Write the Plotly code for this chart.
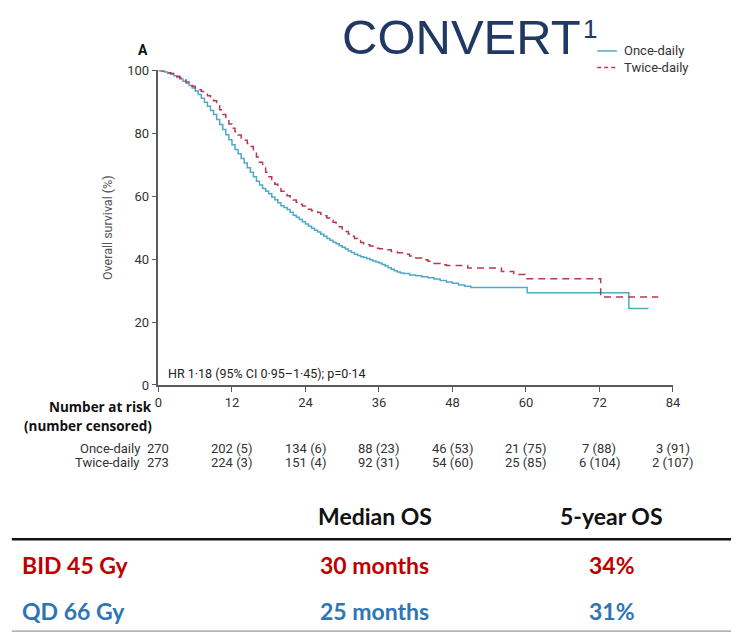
import plotly.graph_objects as go

# Kaplan-Meier overall survival, CONVERT trial (months vs % alive)
qd_months = [0, 0.5, 1, 1.5, 2, 2.5, 3, 3.5, 4, 4.5, 5, 5.5, 6, 6.5, 7, 7.5, 8, 8.5, 9, 9.5,
             10, 10.5, 11, 11.5, 12, 12.5, 13, 13.5, 14, 14.5, 15, 15.5, 16, 16.5, 17, 17.5,
             18, 18.5, 19, 19.5, 20, 20.5, 21, 21.5, 22, 22.5, 23, 23.5, 24, 24.5, 25, 25.5,
             26, 26.5, 27, 27.5, 28, 28.5, 29, 29.5, 30, 30.5, 31, 31.5, 32, 32.5, 33, 33.5,
             34, 34.5, 35, 35.5, 36, 36.5, 37, 37.5, 38, 38.5, 39, 39.5, 40,
             41, 42, 43, 44, 45, 46, 47, 48, 49, 50, 51, 60.2, 76.8, 80]
qd_surv = [100, 99.8, 99.5, 99.1, 98.8, 98.3, 97.8, 97.3, 96.6, 95.9, 95.2, 94.4, 93.5, 92.4,
           91.2, 89.9, 88.6, 87.3, 86.0, 84.4, 82.8, 81.2, 79.6, 78.0, 76.4, 74.9, 73.5, 72.0,
           70.6, 69.1, 67.6, 66.2, 64.8, 63.6, 62.5, 61.6, 60.8, 59.8, 58.9, 57.9, 57.0, 56.4,
           55.8, 54.9, 54.0, 53.3, 52.6, 51.9, 51.2, 50.5, 49.8, 49.2, 48.6, 47.9, 47.3, 46.6,
           46.0, 45.4, 44.9, 44.3, 43.8, 43.2, 42.6, 42.1, 41.6, 41.2, 40.8, 40.5, 40.2, 39.8,
           39.4, 39.1, 38.8, 38.3, 37.8, 37.3, 36.8, 36.3, 35.9, 35.6, 35.4,
           35.0, 34.7, 34.4, 34.1, 33.7, 33.2, 32.7, 32.3, 31.8, 31.4, 31.0, 29.3, 24.3, 24.3]

bid_months = [0, 0.5, 1, 1.5, 2, 2.5, 3, 3.5, 4, 4.5, 5, 5.5, 6, 6.5, 7, 7.5, 8, 8.5, 9, 9.5,
              10, 10.5, 11, 11.5, 12, 12.5, 13, 13.5, 14, 14.5, 15, 15.5, 16, 16.5, 17, 17.5,
              18, 18.5, 19, 19.5, 20, 20.5, 21, 21.5, 22, 22.5, 23, 23.5, 24, 24.5, 25, 25.5,
              26, 26.5, 27, 27.5, 28, 28.5, 29, 29.5, 30, 30.5, 31, 31.5, 32, 32.5, 33, 33.5,
              34, 34.5, 35, 35.5, 36, 37, 38, 39, 40, 41, 42, 43, 44, 45, 46, 47,
              50.5, 56, 58, 59.8, 72.2, 81.6]
bid_surv = [100, 99.8, 99.6, 99.3, 99.0, 98.6, 98.2, 97.6, 97.0, 96.3, 95.6, 95.0, 94.5, 93.9,
            93.3, 92.7, 92.0, 91.3, 90.4, 89.0, 87.5, 86.0, 84.5, 83.0, 81.6, 80.5, 79.5, 78.6,
            77.8, 76.8, 75.8, 74.2, 72.5, 70.8, 69.0, 67.6, 66.2, 65.0, 63.8, 62.7, 61.6, 60.9,
            60.2, 59.5, 58.8, 58.1, 57.5, 56.9, 56.4, 55.9, 55.4, 55.1, 54.8, 54.3, 53.8, 53.1,
            52.4, 51.7, 51.0, 50.3, 49.6, 48.8, 48.0, 47.3, 46.6, 45.9, 45.3, 44.9, 44.6, 44.2,
            43.8, 43.5, 43.3, 43.0, 42.4, 42.0, 41.6, 41.0, 40.4, 39.8, 39.3, 38.6, 38.2, 38.0,
            37.2, 36.1, 35.1, 33.8, 28.0, 28.0]

risk_times = [0, 12, 24, 36, 48, 60, 72, 84]
risk_qd = ["270", "202 (5)", "134 (6)", "88 (23)", "46 (53)", "21 (75)", "7 (88)", "3 (91)"]
risk_bid = ["273", "224 (3)", "151 (4)", "92 (31)", "54 (60)", "25 (85)", "6 (104)", "2 (107)"]

table_header = ["Median OS", "5-year OS"]
arm_labels = ["BID 45 Gy", "QD 66 Gy"]
median_os = ["30 months", "25 months"]
five_year_os = ["34%", "31%"]

W, H = 739, 641
BLUE = "#4faac8"
RED = "#b8394f"
AXIS = "#5a5a5a"
TXT = "#333333"
FONT = "Roboto, Arial, sans-serif"
BOLD_FONT = "Open Sans, Roboto, sans-serif"
TITLE_FONT = "Liberation Sans, Arial, sans-serif"
TFONT = "Lato, Open Sans, sans-serif"


def px(x):
    return x / W


def py(y):
    return 1 - y / H


fig = go.Figure()
fig.add_trace(go.Scatter(x=qd_months, y=qd_surv, mode="lines", line_shape="hv",
                         line=dict(color=BLUE, width=1.5), name="Once-daily",
                         cliponaxis=False, showlegend=False))
fig.add_trace(go.Scatter(x=bid_months, y=bid_surv, mode="lines", line_shape="hv",
                         line=dict(color=RED, width=1.5, dash="7px,5px"),
                         name="Twice-daily", cliponaxis=False, showlegend=False))

ann = []
shapes = []


def note(x, y, text, size, color=TXT, family=FONT, xanchor="center", xref="paper"):
    ann.append(dict(x=x, y=py(y), xref=xref, yref="paper", text=text, showarrow=False,
                    xanchor=xanchor, yanchor="middle",
                    font=dict(family=family, size=size, color=color)))


# title and panel letter
note(px(342), 31, "CONVERT", 49, color="#1f3864", family=TITLE_FONT, xanchor="left")
note(px(587), 23, "1", 26, color="#1f3864", family=TITLE_FONT, xanchor="left")
note(px(141), 44, "<b>A</b>", 14, color="#111")

# legend
for i, (name, col, dash) in enumerate([("Once-daily", BLUE, "solid"), ("Twice-daily", RED, "4px,3px")]):
    yy = 45 + 17 * i
    shapes.append(dict(type="line", xref="paper", yref="paper", x0=px(603), x1=px(623),
                       y0=py(yy), y1=py(yy), line=dict(color=col, width=1.5, dash=dash)))
    note(px(628), yy, name, 13, xanchor="left")

# hazard ratio note
note(1.3, 375, "HR 1·18 (95% CI 0·95–1·45); p=0·14", 12.5, color="#222",
     xanchor="left", xref="x")

# number-at-risk table
note(px(152), 410, "<b>Number at risk</b>", 13.5, color="#111", family=BOLD_FONT, xanchor="right")
note(px(152), 429, "<b>(number censored)</b>", 13.5, color="#111", family=BOLD_FONT, xanchor="right")
for row_y, label, vals in [(452, "Once-daily", risk_qd), (466, "Twice-daily", risk_bid)]:
    note(px(140), row_y, label, 13, xanchor="right")
    for t, v in zip(risk_times, vals):
        note(t, row_y, v, 13, xref="x")

# summary table below the plot
col_x = [377, 618]
for cx, h in zip(col_x, table_header):
    note(px(cx), 521, f"<b>{h}</b>", 23, color="#111", family=TFONT)
shapes.append(dict(type="line", xref="paper", yref="paper", x0=px(8), x1=1,
                   y0=py(545), y1=py(545), line=dict(color="#111", width=2.5)))
shapes.append(dict(type="line", xref="paper", yref="paper", x0=px(8), x1=1,
                   y0=py(639), y1=py(639), line=dict(color="#9a9a9a", width=1.2)))
for row_y, col, arm, med, fy in [(571, "#c00000", arm_labels[0], median_os[0], five_year_os[0]),
                                 (618, "#2e75b6", arm_labels[1], median_os[1], five_year_os[1])]:
    note(px(16), row_y, f"<b>{arm}</b>", 23, color=col, family=TFONT, xanchor="left")
    note(px(col_x[0]), row_y, f"<b>{med}</b>", 23, color=col, family=TFONT)
    note(px(col_x[1]), row_y, f"<b>{fy}</b>", 23, color=col, family=TFONT)

fig.update_layout(
    width=W, height=H, margin=dict(l=0, r=0, t=0, b=0),
    paper_bgcolor="white", plot_bgcolor="white",
    annotations=ann, shapes=shapes, showlegend=False,
    xaxis=dict(domain=[px(157), px(680)], range=[0, 84], tickvals=risk_times,
               showgrid=False, zeroline=False, showline=True, linecolor=AXIS, linewidth=1.5,
               ticks="outside", ticklen=5, tickcolor=AXIS, tickwidth=1.2,
               tickfont=dict(family=FONT, size=13, color=TXT)),
    yaxis=dict(domain=[py(387), py(65)], range=[0, 100], tickvals=[0, 20, 40, 60, 80, 100],
               showgrid=False, zeroline=False, showline=True, linecolor=AXIS, linewidth=1.5,
               ticks="outside", ticklen=5, tickcolor=AXIS, tickwidth=1.2,
               tickfont=dict(family=FONT, size=13, color=TXT),
               title=dict(text="Overall survival (%)", standoff=12,
                          font=dict(family=FONT, size=12.5, color="#555"))),
)

fig.write_html("out.html")
